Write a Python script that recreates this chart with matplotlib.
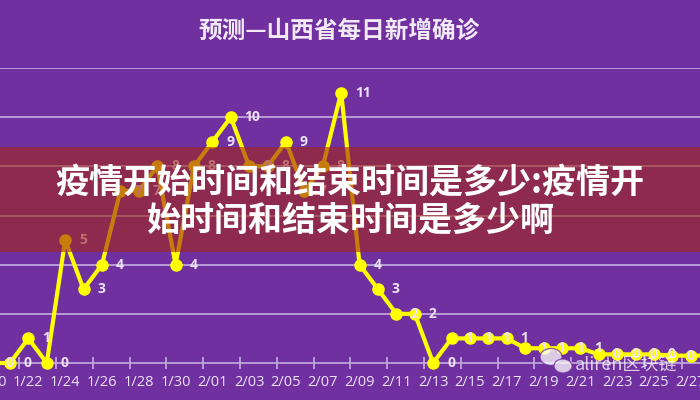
import matplotlib.pyplot as plt
from matplotlib.patches import Rectangle, Ellipse
import numpy as np

# dates shown on the category axis (1/20 .. 2/28)
dates = ['1/20', '1/21', '1/22', '1/23', '1/24', '1/25', '1/26', '1/27', '1/28', '1/29', '1/30', '1/31',
         '2/01', '2/02', '2/03', '2/04', '2/05', '2/06', '2/07', '2/08', '2/09', '2/10', '2/11', '2/12',
         '2/13', '2/14', '2/15', '2/16', '2/17', '2/18', '2/19', '2/20', '2/21', '2/22', '2/23', '2/24',
         '2/25', '2/26', '2/27', '2/28']
# predicted new confirmed cases per day
cases = [0, 0, 1, 0, 5, 3, 4, 7, 7, 8, 4, 8,
         9, 10, 8, 8, 9, 7, 8, 11, 4, 3, 2, 2,
         0, 1, 1, 1, 1, 0.6, 0.6, 0.6, 0.6, 0.35, 0.35, 0.35,
         0.35, 0.3, 0.3, 0.3]

title = '预测—山西省每日新增确诊'
banner_lines = ['疫情开始时间和结束时间是多少:疫情开', '始时间和结束时间是多少啊']
watermark = 'aliren区块链'

purple = '#7030A0'
lavender = '#c4aee0'
label_col = '#ece2f6'
cjk = ['Noto Sans CJK SC', 'DejaVu Sans']

fig = plt.figure(figsize=(7, 4), dpi=100, facecolor=purple)
ax = fig.add_axes([0, 37 / 400, 1, 295 / 400])
ax.set_facecolor('none')

x = np.arange(len(dates))

# horizontal gridlines
ax.set_yticks(range(2, 13, 2))
ax.yaxis.grid(True, color=lavender, lw=1.2)
ax.tick_params(axis='y', left=False, labelleft=False)
for s in ['left', 'right', 'top']:
    ax.spines[s].set_visible(False)
ax.spines['bottom'].set_color(lavender)
ax.spines['bottom'].set_linewidth(1.2)

# category labels every 2 days, small ticks between categories
ax.set_xticks(x[::2])
ax.set_xticklabels(dates[::2], color=label_col, fontsize=10.5, family='Open Sans')
ax.tick_params(axis='x', which='major', length=0, pad=9)
ax.set_xticks(np.arange(1.5, len(dates), 2), minor=True)
ax.tick_params(axis='x', which='minor', length=8, direction='inout', color=lavender, width=1.2)

# limits after the ticks, the left side of the chart is cropped
ax.set_xlim(0.457, 38.5)
ax.set_ylim(0, 12)

# first date label sits just outside the view, draw it by hand so it shows cut off
ax.annotate(dates[0], xy=(x[0], 0), xycoords=('data', 'axes fraction'), xytext=(0, -9),
            textcoords='offset points', ha='center', va='top', fontsize=10.5,
            color=label_col, family='Open Sans', annotation_clip=False)

ax.plot(x, cases, color='#FFFF00', lw=3, marker='o', ms=8, clip_on=False, zorder=3)
for i, v in zip(x, cases):
    ax.annotate(f'{v:.0f}', (i, v), xytext=(10, 0), textcoords='offset points',
                ha='left', va='center', fontsize=10, fontweight='bold',
                color=label_col, family='Open Sans', annotation_clip=False, zorder=4)

fig.text(0.485, 1 - 31 / 400, title, ha='center', va='center', fontsize=17,
         fontweight='bold', color='#f2eaf8', family=cjk)

# overlay banner
fig.add_artist(Rectangle((0, 1 - 252 / 400), 1, 105 / 400, transform=fig.transFigure,
                         facecolor='#A22617', alpha=0.6, edgecolor='none', zorder=5))
fig.text(0.5, 1 - 182 / 400, banner_lines[0], ha='center', va='center', fontsize=24.5,
         fontweight='bold', color='white', family=cjk, zorder=6)
fig.text(0.5, 1 - 220 / 400, banner_lines[1], ha='center', va='center', fontsize=24.5,
         fontweight='bold', color='white', family=cjk, zorder=6)

# watermark
fig.add_artist(Ellipse((551 / 700, 1 - 357 / 400), 22 / 700, 17 / 400, transform=fig.transFigure,
                       facecolor='white', alpha=0.75, edgecolor=purple, lw=1, zorder=6))
fig.add_artist(Ellipse((563 / 700, 1 - 366 / 400), 18 / 700, 14 / 400, transform=fig.transFigure,
                       facecolor='white', alpha=0.75, edgecolor=purple, lw=1, zorder=6))
fig.text(575 / 700, 1 - 365 / 400, watermark, ha='left', va='center', fontsize=13,
         color='white', alpha=0.75, family=cjk, zorder=6)

fig.savefig('out.png', dpi=100, facecolor=purple)
